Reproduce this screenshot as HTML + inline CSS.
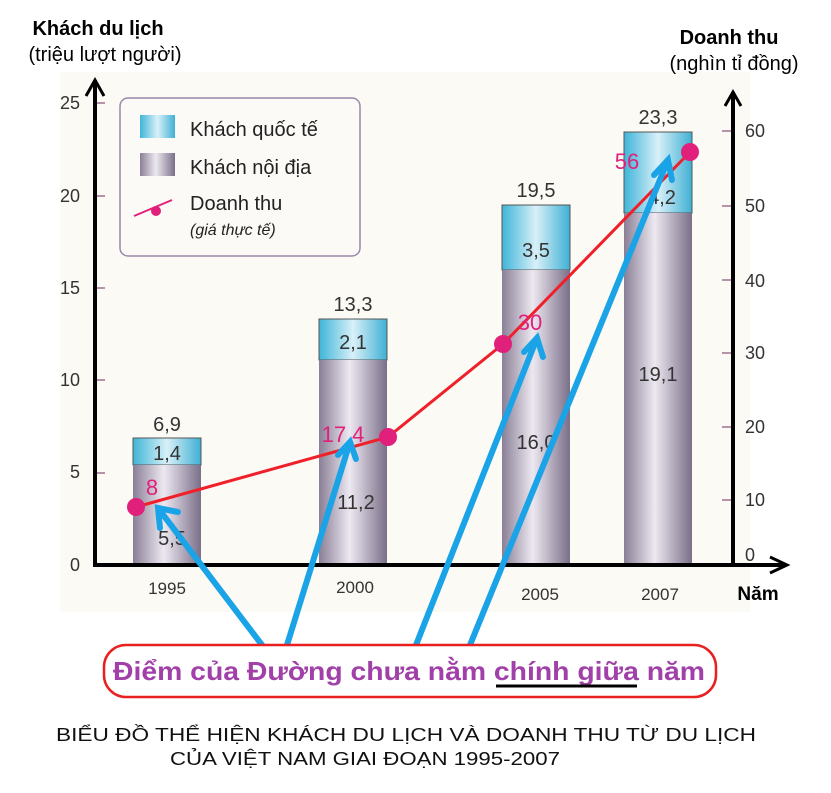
<!DOCTYPE html>
<html><head><meta charset="utf-8"><style>
body{margin:0;background:#fff;}
svg text{font-family:"Liberation Sans",sans-serif;}
</style></head><body>
<svg width="831" height="788" viewBox="0 0 831 788" xmlns="http://www.w3.org/2000/svg">
<defs>
<linearGradient id="gp" x1="0" x2="1" y1="0" y2="0">
<stop offset="0" stop-color="#8a7f96"/><stop offset="0.45" stop-color="#ece8f0"/><stop offset="0.55" stop-color="#d9d3df"/><stop offset="1" stop-color="#7a6f88"/></linearGradient>
<linearGradient id="gb" x1="0" x2="1" y1="0" y2="0">
<stop offset="0" stop-color="#3fb5d8"/><stop offset="0.5" stop-color="#d8f0f8"/><stop offset="1" stop-color="#3fb0d4"/></linearGradient>
</defs>
<rect x="60" y="72" width="690" height="540" fill="#fcfaf5"/>
<text x="98" y="35" font-size="20" font-weight="bold" text-anchor="middle">Khách du lịch</text>
<text x="105" y="61" font-size="20" text-anchor="middle">(triệu lượt người)</text>
<text x="729" y="44" font-size="20" font-weight="bold" text-anchor="middle">Doanh thu</text>
<text x="734" y="70" font-size="20" text-anchor="middle">(nghìn tỉ đồng)</text>
<g font-size="18" fill="#333" text-anchor="end">
<text x="80" y="109">25</text><text x="80" y="202">20</text><text x="80" y="294">15</text><text x="80" y="386">10</text><text x="80" y="478">5</text><text x="80" y="571">0</text></g>
<g stroke="#a07090" stroke-width="1.5"><line x1="96" x2="105" y1="103" y2="103"/><line x1="96" x2="105" y1="196" y2="196"/><line x1="96" x2="105" y1="288" y2="288"/><line x1="96" x2="105" y1="380" y2="380"/><line x1="96" x2="105" y1="473" y2="473"/>
<line x1="722" x2="732" y1="131" y2="131"/><line x1="722" x2="732" y1="206" y2="206"/><line x1="722" x2="732" y1="280" y2="280"/><line x1="722" x2="732" y1="353" y2="353"/><line x1="722" x2="732" y1="427" y2="427"/><line x1="722" x2="732" y1="500" y2="500"/></g>
<g font-size="18" fill="#333">
<text x="745" y="137">60</text><text x="745" y="212">50</text><text x="745" y="287">40</text><text x="745" y="359">30</text><text x="745" y="433">20</text><text x="745" y="506">10</text><text x="745" y="561">0</text></g>
<rect x="133" y="438" width="68" height="27" fill="url(#gb)" stroke="#555"/>
<rect x="133" y="465" width="68" height="100" fill="url(#gp)"/>
<rect x="319" y="319" width="68" height="41" fill="url(#gb)" stroke="#555"/>
<rect x="319" y="360" width="68" height="205" fill="url(#gp)"/>
<rect x="502" y="205" width="68" height="65" fill="url(#gb)" stroke="#555"/>
<rect x="502" y="270" width="68" height="295" fill="url(#gp)"/>
<rect x="624" y="132" width="68" height="81" fill="url(#gb)" stroke="#555"/>
<rect x="624" y="213" width="68" height="352" fill="url(#gp)"/>
<g font-size="20" fill="#333" text-anchor="middle">
<text x="167" y="431">6,9</text><text x="167" y="460">1,4</text><text x="172" y="545">5,5</text>
<text x="353" y="311">13,3</text><text x="353" y="349">2,1</text><text x="356" y="509">11,2</text>
<text x="536" y="197">19,5</text><text x="536" y="257">3,5</text><text x="536" y="449">16,0</text>
<text x="658" y="124">23,3</text><text x="662" y="204">4,2</text><text x="658" y="381">19,1</text></g>
<g stroke="#000" stroke-width="4" fill="none">
<line x1="95" y1="80" x2="95" y2="567"/><polyline points="86,96 95,80 104,96" stroke-width="3"/>
<line x1="733" y1="92" x2="733" y2="567"/><polyline points="725,106 733,92 741,106" stroke-width="3"/>
<line x1="93" y1="565" x2="785" y2="565"/><polyline points="770,557 787,565 770,573" stroke-width="3"/></g>
<g font-size="17" fill="#333" text-anchor="middle"><text x="167" y="594">1995</text><text x="355" y="593">2000</text><text x="540" y="600">2005</text><text x="660" y="600">2007</text></g>
<text x="758" y="600" font-size="19" font-weight="bold" text-anchor="middle">Năm</text>
<rect x="120" y="98" width="240" height="158" rx="8" fill="#fcfaf6" stroke="#9a88aa" stroke-width="1.5"/>
<rect x="140" y="115" width="35" height="23" fill="url(#gb)"/>
<rect x="140" y="153" width="35" height="23" fill="url(#gp)"/>
<line x1="134" y1="216" x2="172" y2="200" stroke="#e0207a" stroke-width="2"/><circle cx="156" cy="211" r="5" fill="#e0207a"/>
<g font-size="20" fill="#222"><text x="190" y="136">Khách quốc tế</text><text x="190" y="174">Khách nội địa</text><text x="190" y="210">Doanh thu</text></g>
<text x="190" y="235" font-size="16" font-style="italic" fill="#222">(giá thực tế)</text>
<polyline points="136,507 388,437 503,344 690,152" fill="none" stroke="#f0202a" stroke-width="3"/>
<g fill="#e0207a"><circle cx="136" cy="507" r="9"/><circle cx="388" cy="437" r="9"/><circle cx="503" cy="344" r="9"/><circle cx="690" cy="152" r="9"/></g>
<g font-size="22" fill="#e0207a" text-anchor="middle"><text x="152" y="495">8</text><text x="343" y="442">17,4</text><text x="530" y="330">30</text><text x="627" y="169">56</text></g>
<g stroke="#1aa3e6" stroke-width="6" fill="none" stroke-linecap="round">
<line x1="262" y1="645" x2="158" y2="508"/><polyline points="160,528 158,508 178,512"/>
<line x1="287" y1="645" x2="350" y2="442"/><polyline points="338,455 350,442 356,459"/>
<line x1="416" y1="645" x2="537" y2="338"/><polyline points="524,352 537,338 543,357"/>
<line x1="470" y1="645" x2="668" y2="160"/><polyline points="654,175 668,160 672,180"/></g>
<rect x="104" y="645" width="612" height="52" rx="22" fill="#fff" stroke="#e82020" stroke-width="2.5"/>
<text x="113" y="680" font-size="26" font-weight="bold" fill="#a040a8" textLength="592" lengthAdjust="spacingAndGlyphs">Điểm của Đường chưa nằm chính giữa năm</text>
<line x1="496" y1="686" x2="637" y2="686" stroke="#000" stroke-width="3"/>
<text x="56" y="741" font-size="18" fill="#111" textLength="700" lengthAdjust="spacingAndGlyphs">BIỂU ĐỒ THỂ HIỆN KHÁCH DU LỊCH VÀ DOANH THU TỪ DU LỊCH</text>
<text x="170" y="765" font-size="18" fill="#111" textLength="390" lengthAdjust="spacingAndGlyphs">CỦA VIỆT NAM GIAI ĐOẠN 1995-2007</text>
</svg>
</body></html>
